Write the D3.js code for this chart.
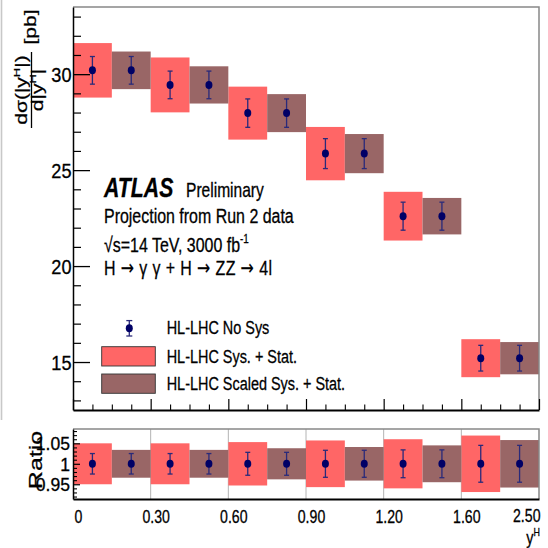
<!DOCTYPE html>
<html><head><meta charset="utf-8">
<script src="https://cdn.jsdelivr.net/npm/d3@7"></script>
<style>body{margin:0;background:#fff} svg{display:block} text{font-family:"Liberation Sans",Arial,sans-serif;fill:#000;stroke:#000;stroke-width:0.3px}</style>
</head><body><svg id="c" width="548" height="548"></svg>
<script>
// ---- data ----
const binLabels = ["0","0.30","0.60","0.90","1.20","1.60","2.50"];
const xsec = [30.2, 29.44, 27.97, 25.86, 22.6, 15.2];
const statErr = [0.72, 0.72, 0.74, 0.78, 0.73, 0.67];
const sysErr = [1.42, 1.43, 1.38, 1.39, 1.27, 0.99];
const scaledSysErr = [0.98, 0.97, 0.99, 1.02, 0.95, 0.84];
const ratioStat = [0.025, 0.025, 0.028, 0.033, 0.034, 0.045];
const ratioSys = [0.050, 0.050, 0.053, 0.057, 0.060, 0.069];
const ratioScaledSys = [0.034, 0.034, 0.038, 0.041, 0.045, 0.058];
const yTicks = [15, 20, 25, 30];
const ratioTicks = [0.95, 1, 1.05];
const legendLabels = ["HL-LHC No Sys", "HL-LHC Sys. + Stat.", "HL-LHC Scaled Sys. + Stat."];

// ---- layout / style ----
const SX = 0.76;
const FONT = '"Liberation Sans",Arial,sans-serif';
const svg = d3.select("#c");
const L = 73, R = 539, T1 = 7, B1 = 410, T2 = 429, B2 = 499;
const nb = xsec.length;
const RED = "#ff6666", BROWN = "#996666", NAVY = "#000066", ERR = "#2a2a7a";

const xe = d3.scaleLinear().domain([0, nb]).range([L, R]);
const y1 = d3.scaleLinear().domain([12.5, 33.5]).range([B1, T1]);
const y2 = d3.scaleLinear().domain([0.914, 1.085]).range([B2, T2]);

// left edge artifact
svg.append("rect").attr("x", 0).attr("y", 0).attr("width", 3).attr("height", 420).attr("fill", "#eeeeee");
svg.append("line").attr("x1", 1.5).attr("x2", 1.5).attr("y1", 0).attr("y2", 420).attr("stroke", "#c8c8c8");

function ht(x, y, size, parts, opts = {}) {
  const t = svg.append("text")
    .attr("transform", `translate(${x},${y}) ${opts.rot ? "rotate(-90) scale(1," + (opts.sx || SX) + ")" : "scale(" + (opts.sx || SX) + ",1)"}`)
    .attr("font-size", size).attr("text-anchor", opts.anchor || "start");
  if (opts.weight) t.attr("font-weight", opts.weight);
  if (opts.style) t.attr("font-style", opts.style);
  if (opts.len) t.attr("textLength", opts.len / (opts.sx || SX)).attr("lengthAdjust", "spacing");
  let shifted = 0;
  parts.forEach(p => {
    if (typeof p === "string") {
      const s = t.append("tspan").text(p);
      if (shifted) { s.attr("dy", shifted); shifted = 0; }
    } else if (p.arrow) {
      const s = t.append("tspan").attr("font-family", '"DejaVu Sans"').attr("stroke-width", 0.15).text(p.arrow);
      if (shifted) { s.attr("dy", shifted); shifted = 0; }
    } else {
      const d = size * 0.42;
      t.append("tspan").attr("font-size", size * 0.62).attr("dy", -d).text(p.sup);
      shifted = d;
    }
  });
  return t;
}

// ---------- TOP PANEL ----------
const topG = svg.append("g");
topG.selectAll("rect.sys").data(xsec).join("rect")
  .attr("x", (d, i) => xe(i)).attr("width", (d, i) => xe(i + 0.5) - xe(i))
  .attr("y", (d, i) => y1(d + sysErr[i])).attr("height", (d, i) => y1(d - sysErr[i]) - y1(d + sysErr[i]))
  .attr("fill", RED);
topG.selectAll("rect.scl").data(xsec).join("rect")
  .attr("x", (d, i) => xe(i + 0.5)).attr("width", (d, i) => xe(i + 1) - xe(i + 0.5))
  .attr("y", (d, i) => y1(d + scaledSysErr[i])).attr("height", (d, i) => y1(d - scaledSysErr[i]) - y1(d + scaledSysErr[i]))
  .attr("fill", BROWN);

function points(g, ys, lo, hi) {
  const pts = [];
  ys.forEach((d, i) => { pts.push({ x: xe(i + 0.25), y: d, lo: lo(i), hi: hi(i) }); pts.push({ x: xe(i + 0.75), y: d, lo: lo(i), hi: hi(i) }); });
  const eg = g.append("g").selectAll("g").data(pts).join("g");
  eg.append("line").attr("x1", p => p.x).attr("x2", p => p.x).attr("y1", p => p.lo).attr("y2", p => p.hi).attr("stroke", ERR).attr("stroke-width", 1.3);
  eg.append("line").attr("x1", p => p.x - 2.5).attr("x2", p => p.x + 2.5).attr("y1", p => p.lo).attr("y2", p => p.lo).attr("stroke", ERR).attr("stroke-width", 1.3);
  eg.append("line").attr("x1", p => p.x - 2.5).attr("x2", p => p.x + 2.5).attr("y1", p => p.hi).attr("y2", p => p.hi).attr("stroke", ERR).attr("stroke-width", 1.3);
  eg.append("ellipse").attr("cx", p => p.x).attr("cy", p => p.y).attr("rx", 3.5).attr("ry", 4).attr("fill", NAVY);
}
points(topG, xsec.map(v => y1(v)), i => y1(xsec[i] - statErr[i]), i => y1(xsec[i] + statErr[i]));

topG.append("path").attr("d", `M${L},${T1}H${R}V${B1}`).attr("fill", "none").attr("stroke", "#888").attr("stroke-width", 1.5);

const gy = svg.append("g").attr("transform", `translate(${L},0)`)
  .call(d3.axisLeft(y1).tickValues(yTicks).tickSize(-17).tickSizeOuter(0).tickPadding(2));
gy.select(".domain").attr("stroke", "#000").attr("stroke-width", 1.5);
gy.selectAll(".tick line").attr("stroke", "#000").attr("stroke-width", 1.3);
gy.selectAll(".tick text").attr("font-family", FONT).attr("font-size", 19.5).attr("fill", "#000")
  .attr("x", 0).attr("dy", null).attr("text-anchor", "end")
  .attr("transform", `translate(-1.5,7) scale(0.93,1)`);
const gym = svg.append("g").attr("transform", `translate(${L},0)`)
  .call(d3.axisLeft(y1).tickValues(d3.range(13, 34).filter(v => v % 5)).tickSize(-8).tickSizeOuter(0).tickFormat(""));
gym.select(".domain").remove();
gym.selectAll(".tick line").attr("stroke", "#000").attr("stroke-width", 1.2);

const gx = svg.append("g").attr("transform", `translate(0,${B1})`)
  .call(d3.axisBottom(xe).tickValues(d3.range(0, nb + 1)).tickSize(-11).tickSizeOuter(0).tickFormat(""));
gx.select(".domain").attr("stroke", "#000").attr("stroke-width", 2);
gx.selectAll(".tick line").attr("stroke", "#000").attr("stroke-width", 1.2);
const gxm = svg.append("g").attr("transform", `translate(0,${B1})`)
  .call(d3.axisBottom(xe).tickValues(d3.range(0, nb, 0.25).filter(v => v % 1)).tickSize(-5.5).tickSizeOuter(0).tickFormat(""));
gxm.select(".domain").remove();
gxm.selectAll(".tick line").attr("stroke", "#000").attr("stroke-width", 1.1);

// y title
ht(27, 90, 21, ["dσ(|y", { sup: "H" }, "|)"], { rot: true, anchor: "middle" });
ht(42.5, 90, 21, ["d|y", { sup: "H" }, "|"], { rot: true, anchor: "middle" });
svg.append("line").attr("x1", 31.5).attr("x2", 31.5).attr("y1", 52).attr("y2", 128).attr("stroke", "#000").attr("stroke-width", 1.3);
ht(35.5, 27, 21, ["[pb]"], { rot: true, anchor: "middle" });

// ATLAS label
ht(104, 197, 28, ["ATLAS"], { weight: "bold", style: "italic" });
ht(186, 197, 20.5, ["Preliminary"]);
ht(104, 223, 21, ["Projection from Run 2 data"]);
ht(104, 252, 21, ["√s=14 TeV, 3000 fb", { sup: "-1" }]);
ht(104, 275, 21, ["H ", { arrow: "→" }, " γ γ + H ", { arrow: "→" }, " ZZ ", { arrow: "→" }, " 4l"], { len: 168 });

// legend
const lg = svg.append("g");
const lx = 129.3, ly = 328.3;
lg.append("line").attr("x1", lx).attr("x2", lx).attr("y1", ly - 7.7).attr("y2", ly + 7.7).attr("stroke", ERR).attr("stroke-width", 1.3);
[ly - 7.7, ly + 7.7].forEach(yy => lg.append("line").attr("x1", lx - 3).attr("x2", lx + 3).attr("y1", yy).attr("y2", yy).attr("stroke", ERR).attr("stroke-width", 1.3));
lg.append("ellipse").attr("cx", lx).attr("cy", ly).attr("rx", 3.5).attr("ry", 4).attr("fill", NAVY);
lg.append("rect").attr("x", 101.7).attr("y", 346.7).attr("width", 53.6).attr("height", 19.3).attr("fill", RED).attr("stroke", "#333").attr("stroke-width", 0.9);
lg.append("rect").attr("x", 101.7).attr("y", 374).attr("width", 53.6).attr("height", 19.3).attr("fill", BROWN).attr("stroke", "#333").attr("stroke-width", 0.9);
[334, 363, 390].forEach((yy, k) => ht(166.7, yy, 19, [legendLabels[k]]));

// ---------- RATIO PANEL ----------
const rp = svg.append("g");
rp.selectAll("line.grid").data(d3.range(1, nb)).join("line")
  .attr("x1", d => xe(d)).attr("x2", d => xe(d)).attr("y1", T2).attr("y2", B2).attr("stroke", "#b4b4b4").attr("stroke-width", 1);
rp.selectAll("rect.rsys").data(ratioSys).join("rect")
  .attr("x", (d, i) => xe(i)).attr("width", (d, i) => xe(i + 0.5) - xe(i))
  .attr("y", d => y2(1 + d)).attr("height", d => y2(1 - d) - y2(1 + d)).attr("fill", RED);
rp.selectAll("rect.rscl").data(ratioScaledSys).join("rect")
  .attr("x", (d, i) => xe(i + 0.5)).attr("width", (d, i) => xe(i + 1) - xe(i + 0.5))
  .attr("y", d => y2(1 + d)).attr("height", d => y2(1 - d) - y2(1 + d)).attr("fill", BROWN);
points(rp, xsec.map(() => y2(1)), i => y2(1 - ratioStat[i]), i => y2(1 + ratioStat[i]));
rp.append("path").attr("d", `M${L},${T2}H${R}V${B2}`).attr("fill", "none").attr("stroke", "#888").attr("stroke-width", 1.5);

const ry = svg.append("g").attr("transform", `translate(${L},0)`)
  .call(d3.axisLeft(y2).tickValues(ratioTicks).tickSize(-7).tickSizeOuter(0).tickPadding(3).tickFormat(d => d === 1 ? "1" : d3.format(".2f")(d)));
ry.select(".domain").attr("stroke", "#000").attr("stroke-width", 1.5);
ry.selectAll(".tick line").attr("stroke", "#000").attr("stroke-width", 1.2);
ry.selectAll(".tick text").attr("font-family", FONT).attr("font-size", 18.5).attr("fill", "#000")
  .attr("x", 0).attr("dy", null).attr("text-anchor", "end")
  .attr("transform", `translate(-3,6.6) scale(0.95,1)`);
const rym = svg.append("g").attr("transform", `translate(${L},0)`)
  .call(d3.axisLeft(y2).tickValues(d3.range(0.92, 1.085, 0.01).filter(v => Math.abs(v * 100 % 5) > 0.01 && Math.abs(v * 100 % 5 - 5) > 0.01)).tickSize(-4).tickSizeOuter(0).tickFormat(""));
rym.select(".domain").remove();
rym.selectAll(".tick line").attr("stroke", "#000").attr("stroke-width", 1.1);

const rx = svg.append("g").attr("transform", `translate(0,${B2})`)
  .call(d3.axisBottom(xe).tickValues(d3.range(0, nb + 1)).tickSize(0).tickSizeOuter(0).tickFormat(i => binLabels[i]));
rx.select(".domain").attr("stroke", "#000").attr("stroke-width", 2);
rx.selectAll(".tick text").attr("font-family", FONT).attr("font-size", 18.6).attr("fill", "#000")
  .attr("y", 0).attr("dy", null)
  .attr("text-anchor", (d, i) => i === nb ? "end" : "middle")
  .attr("transform", (d, i) => `translate(${i === nb ? 1 : 5},${i === nb ? 23 : 24}) scale(${SX},1)`);

ht(42, 460, 25, ["Ratio"], { rot: true, anchor: "middle" });
ht(540, 544, 19, ["y", { sup: "H" }], { anchor: "end" });
</script></body></html>
